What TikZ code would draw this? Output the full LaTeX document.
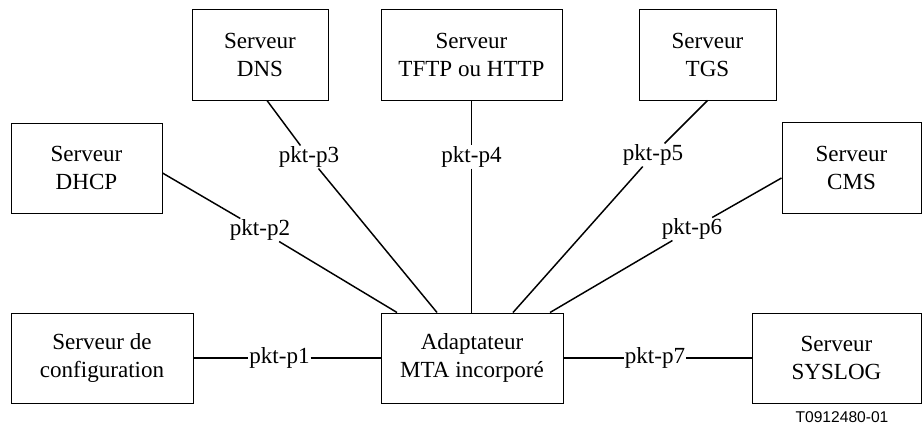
\documentclass[tikz,border=0pt]{standalone}
\usepackage{fontspec}
\setmainfont{Liberation Serif}
\newfontfamily\labelsans{Liberation Sans}
\usetikzlibrary{calc}
\tikzset{
  server/.style={draw, line width=0.75pt, align=center, inner sep=0pt,
    font=\fontsize{17.3}{21}\selectfont},
  link/.style={line width=1.1pt},
  linklabel/.style={inner sep=0.6pt, font=\fontsize{17.3}{21}\selectfont}
}
\begin{document}
\begin{tikzpicture}[x=0.75pt,y=-0.75pt]
\useasboundingbox (0,0) rectangle (923,426);
% boxes
\node[server, minimum width=182*0.75pt, minimum height=90*0.75pt] (cfg) at (102,358) {Serveur de\\configuration};
\node[server, minimum width=151*0.75pt, minimum height=90*0.75pt] (dhcp) at (86.5,168) {Serveur\\DHCP};
\node[server, minimum width=136*0.75pt, minimum height=91*0.75pt] (dns) at (260,54.5) {Serveur\\DNS};
\node[server, minimum width=181*0.75pt, minimum height=91*0.75pt] (tftp) at (471.5,54.5) {Serveur\\TFTP ou HTTP};
\node[server, minimum width=137*0.75pt, minimum height=91*0.75pt] (tgs) at (707.5,54.5) {Serveur\\TGS};
\node[server, minimum width=139*0.75pt, minimum height=91*0.75pt] (cms) at (851.5,167.5) {Serveur\\CMS};
\node[server, minimum width=182*0.75pt, minimum height=90*0.75pt] (mta) at (472,358) {Adaptateur\\MTA incorpor\'e};
\node[server, minimum width=169*0.75pt, minimum height=90*0.75pt] (sys) at (836.5,358) {Serveur\\SYSLOG};
% labels
\node[linklabel] (p1) at (279.5,358) {pkt-p1};
\node[linklabel] (p2) at (260,230) {pkt-p2};
\node[linklabel] (p3) at (309,157) {pkt-p3};
\node[linklabel] (p4) at (471.5,157) {pkt-p4};
\node[linklabel] (p5) at (653,155) {pkt-p5};
\node[linklabel] (p6) at (692,229) {pkt-p6};
\node[linklabel] (p7) at (655,358) {pkt-p7};
% connectors
\draw[link] (cfg.east) -- (p1) -- (mta.west);
\draw[link] (mta.east) -- (p7) -- (sys.west);
\draw[link] ($(dhcp.east)+(0,5)$) -- (p2) -- ($(mta.north)+(-75,0)$);
\draw[link] ($(dns.south)+(7,0)$) -- (p3) -- ($(mta.north)+(-35,0)$);
\draw[link] (tftp.south) -- (p4) -- (tftp.south |- mta.north);
\draw[link] (tgs.south) -- (p5) -- ($(mta.north)+(41,0)$);
\draw[link] ($(cms.west)+(0,10.5)$) -- (p6) -- ($(mta.north)+(78,0)$);
% figure id
\node[inner sep=0pt, font=\labelsans\fontsize{11.7}{14}\selectfont] (fid) at (842,417) {T0912480-01};
\end{tikzpicture}
\end{document}
